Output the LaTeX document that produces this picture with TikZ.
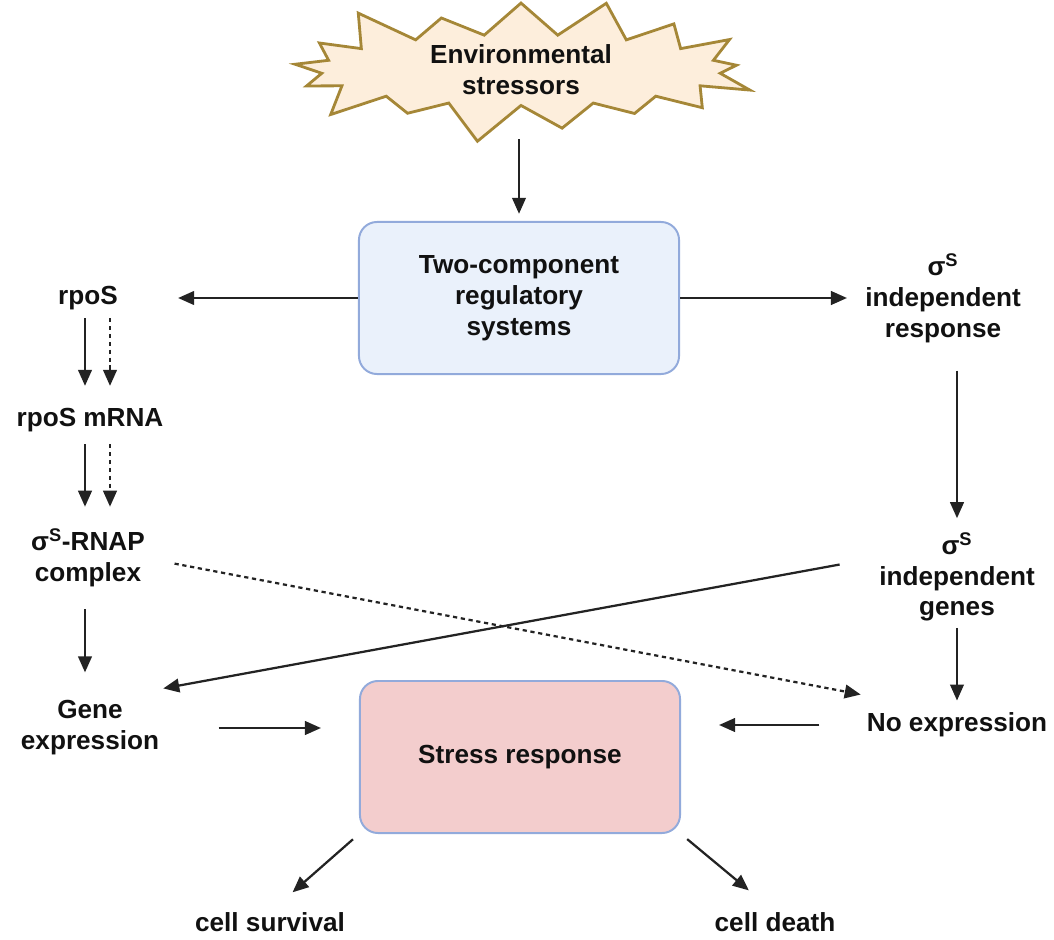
\documentclass[tikz,border=0pt]{standalone}
\usepackage{fontspec}
\setmainfont{Liberation Sans}
\usetikzlibrary{arrows.meta, positioning, calc, shapes.symbols}
\definecolor{ArrowColor}{RGB}{35,35,35}
\definecolor{TextColor}{RGB}{17,17,17}
\definecolor{BurstFill}{RGB}{253,238,220}
\definecolor{BurstLine}{RGB}{165,135,55}
\definecolor{BoxLine}{RGB}{146,170,219}
\definecolor{SystemFill}{RGB}{234,241,251}
\definecolor{ResponseFill}{RGB}{243,205,205}
\tikzstyle{arrow} = [line width=1.6pt, ArrowColor, -{Triangle[length=0.4cm,width=0.34cm]}]
\tikzstyle{dasharrow} = [arrow, dash pattern=on 3pt off 2.6pt]
\tikzstyle{txt} = [inner sep=0pt, align=center, text=TextColor, font=\fontsize{18.6}{22}\selectfont\bfseries]
\tikzstyle{panel} = [txt, draw=BoxLine, line width=1.4pt, rounded corners=0.45cm, minimum width=8cm, minimum height=3.8cm]
\newcommand{\sigmaS}{σ\textsuperscript{S}}

\begin{document}
\begin{tikzpicture}[x=0.025cm, y=-0.025cm]
    \useasboundingbox (0,0) rectangle (1054,940);

    % stressor and the two boxes
    \node[txt, starburst, starburst points=17, starburst point height=1.1cm,
          fill=BurstFill, draw=BurstLine, line width=2pt,
          minimum width=12.2cm, minimum height=3.4cm] (stress) at (521,70) {Environmental\\stressors};
    \node[panel, fill=SystemFill] (tcs) at (519,298) {Two-component\\regulatory\\systems};
    \node[panel, fill=ResponseFill] (sr) at (520,757) {Stress response};

    % left column
    \node[txt] (rpos) at (88,298) {rpoS};
    \node[txt] (mrna) at (90,420) {rpoS mRNA};
    \node[txt] (rnap) at (88,558) {\sigmaS-RNAP\\complex};
    \node[txt] (geneexp) at (90,728) {Gene\\expression};

    % right column
    \node[txt] (sresp) at (943,298) {\sigmaS\\independent\\response};
    \node[txt] (sgenes) at (957,577) {\sigmaS\\independent\\genes};
    \node[txt] (noexp) at (957,725) {No expression};

    % outcomes
    \node[txt] (survival) at (270,922) {cell survival};
    \node[txt] (death) at (775,922) {cell death};

    % arrows
    \draw[arrow, shorten <=0.8cm, shorten >=0.18cm] (tcs.north |- stress.south) -- (tcs.north);
    \draw[arrow, shorten >=1.5cm] (tcs.west) -- (rpos.east);
    \draw[arrow, shorten >=0.45cm] (tcs.east) -- (tcs.east -| sresp.west);

    \draw[arrow, shorten <=0.2cm, shorten >=0.55cm] ($(rpos.south)+(-3,0)$) -- ($(mrna.north)+(-5,0)$);
    \draw[dasharrow, shorten <=0.2cm, shorten >=0.55cm] ($(rpos.south)+(22,0)$) -- ($(mrna.north)+(20,0)$);
    \draw[arrow, shorten <=0.3cm, shorten >=0.55cm] ($(mrna.south)+(-5,0)$) -- ($(rnap.north)+(-3,0)$);
    \draw[dasharrow, shorten <=0.3cm, shorten >=0.55cm] ($(mrna.south)+(20,0)$) -- ($(rnap.north)+(22,0)$);
    \draw[arrow, shorten <=0.55cm, shorten >=0.7cm] ($(rnap.south)+(-3,0)$) -- ($(geneexp.north)+(-5,0)$);

    \draw[arrow, shorten <=0.7cm, shorten >=0.35cm] (sresp.south -| sgenes.north) -- (sgenes.north);
    \draw[arrow, shorten <=0.15cm, shorten >=0.3cm] (sgenes.south) -- (noexp.north);

    \draw[arrow, shorten <=1.48cm, shorten >=0.95cm] (geneexp.east) -- (geneexp.east -| sr.west);
    \draw[arrow, shorten <=1.18cm, shorten >=0.95cm] (noexp.west) -- (noexp.west -| sr.east);

    % crossing connections
    \draw[arrow, shorten <=1cm, shorten >=0.1cm] ([yshift=14pt]sgenes.west) -- ([yshift=8pt]geneexp.north east);
    \draw[dasharrow, shorten <=0.75cm, shorten >=0.15cm] (rnap.east) -- ([yshift=12pt]noexp.north west);

    \draw[arrow, shorten <=0.2cm, shorten >=0.75cm] (sr.south west) -- (survival.north);
    \draw[arrow, shorten <=0.2cm, shorten >=0.85cm] (sr.south east) -- (death.north);
\end{tikzpicture}
\end{document}
